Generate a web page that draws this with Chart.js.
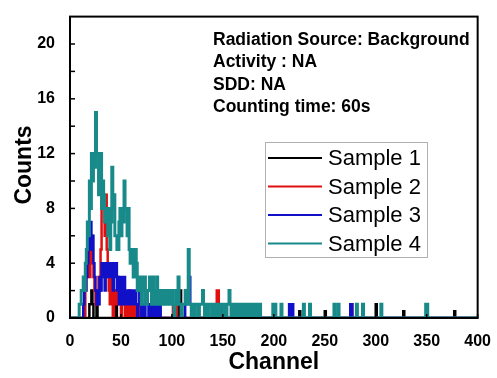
<!DOCTYPE html>
<html>
<head>
<meta charset="utf-8">
<script src="https://cdn.jsdelivr.net/npm/chart.js@4/dist/chart.umd.min.js"></script>
<style>
  body { margin: 0; background: #fff; }
  canvas { display: block; }
</style>
</head>
<body>
<canvas id="spectrum-chart" width="497" height="378"></canvas>
<script>
// 
// Background spectrum, 4 samples
// 

// axis ticks
const xTicks = [0, 50, 100, 150, 200, 250, 300, 350, 400];
const yTicks = [0, 4, 8, 12, 16, 20];

// each sample: a run of counts per channel starting at denseStart,
// then sparse (channel, count) steps further out
// sample 1 (black)
const sample1DenseStart = 17;
const sample1DenseCounts = [0, 0, 1, 1, 2, 1, 0, 0, 0, 1, 0, 0, 0, 0, 0, 0, 0, 0, 0, 0, 0, 0, 0, 0, 0, 0, 0, 0, 2, 0, 0, 0, 0, 0, 0, 0, 0, 0, 1, 0];
const sample1Channels = [107, 108, 109, 110, 149, 150, 225, 226, 250, 251, 300, 301, 327, 328, 377, 378, 400];
const sample1Counts   = [1, 2, 1, 0, 1, 0, 0.5, 0, 0.5, 0, 1, 0, 0.5, 0, 0.5, 0, 0];

// sample 2 (red)
const sample2DenseStart = 14;
const sample2DenseCounts = [0, 2, 3, 6, 5, 3, 6, 6, 4, 3, 2, 1, 2, 1, 3, 2, 5, 9, 8, 9, 6, 9, 5, 3, 2, 1, 3, 1, 0, 2, 1, 2, 1, 3, 1, 2, 0, 1, 2, 1, 0, 1, 0, 1, 2, 0, 1, 0, 1, 0, 0, 1, 0, 0, 0, 1, 0];
const sample2Channels = [101, 102, 104, 105, 143, 144, 146, 147, 275, 277, 400];
const sample2Counts   = [1, 0, 1, 0, 1, 2, 1, 0, 1, 0, 0];

// sample 3 (blue)
const sample3DenseStart = 12;
const sample3DenseCounts = [0, 1, 2, 2, 3, 4, 5, 6, 7, 5, 6, 4, 3, 2, 1, 2, 1, 3, 2, 4, 3, 4, 2, 4, 3, 4, 4, 3, 4, 4, 2, 4, 3, 4, 2, 3, 1, 2, 3, 1, 2, 3, 1, 2, 1, 2, 1, 2, 1, 2, 1, 1, 2, 1, 0, 1, 2, 1, 0, 1, 1, 0, 1, 2, 1, 0, 1, 1, 0, 1, 0, 1, 1, 0, 1, 0, 1, 0, 0];
const sample3Channels = [113, 114, 116, 118, 119, 173, 175, 215, 216, 217, 219, 275, 277, 400];
const sample3Counts   = [1, 2, 3, 1, 0, 1, 0, 1, 0, 1, 0, 1, 0, 0];

// sample 4 (teal)
const sample4DenseStart = 9;
const sample4DenseCounts = [
  1, 1, 2, 2, 3, 2, 4, 5, 7, 6, 10, 8, 12, 10, 12, 11, 15, 12, 12, 9, 11, 12, 8, 10, 9, 7, 8, 8, 6, 8, 5, 7,
  11, 8, 9, 6, 6, 5, 5, 7, 8, 6, 8, 7, 10, 8, 8, 6, 8, 5, 4, 5, 5, 3, 3, 5, 4, 2, 2, 3, 3, 1, 3, 2, 3, 1,
  1, 2, 2, 3, 3, 1, 3, 2, 1, 2, 3, 1, 1, 2, 1, 1, 2, 1, 1, 2, 2, 1, 1, 2, 1, 2, 1, 0, 1, 2, 1, 3, 1, 1,
  0, 1, 1, 1, 2, 1, 2, 5, 1, 1, 0, 1, 1, 0, 1, 1, 1, 0, 1, 1, 1, 2, 1, 0, 1, 1, 0, 1, 1, 1, 0, 1, 1, 0,
  0, 1, 1, 0, 1, 1, 1, 0, 1, 1, 0, 1, 1, 2, 1, 0, 1, 1, 0, 1, 0, 1, 1, 0, 1, 0, 1, 1, 0, 1, 0, 1, 0, 1,
  1, 0, 1, 0, 1, 1, 0, 1, 0, 1, 0
];
const sample4Channels = [199, 200, 201, 202, 207, 208, 229, 230, 235, 236, 259, 260, 263, 264, 281, 282, 287, 288, 305, 306, 349, 351, 400];
const sample4Counts   = [1, 0, 1, 0, 1, 0, 1, 0, 1, 0, 1, 0, 1, 0, 1, 0, 1, 0, 1, 0, 1, 0, 0];

const seriesLabels = ["Sample 1", "Sample 2", "Sample 3", "Sample 4"];
const seriesColors = ["#000000", "#e01010", "#1010c8", "#198a8a"];
const seriesWidths = [2.5, 2.5, 2.5, 3];

const infoLines = [
  "Radiation Source: Background",
  "Activity : NA",
  "SDD: NA",
  "Counting time: 60s"
];

function toPoints(start, dense, channels, counts) {
  const pts = [{ x: 0, y: 0 }];
  dense.forEach((c, i) => pts.push({ x: start + i, y: c }));
  channels.forEach((ch, i) => pts.push({ x: ch, y: counts[i] }));
  return pts;
}

const seriesData = [
  toPoints(sample1DenseStart, sample1DenseCounts, sample1Channels, sample1Counts),
  toPoints(sample2DenseStart, sample2DenseCounts, sample2Channels, sample2Counts),
  toPoints(sample3DenseStart, sample3DenseCounts, sample3Channels, sample3Counts),
  toPoints(sample4DenseStart, sample4DenseCounts, sample4Channels, sample4Counts)
];

const FONT = "'Liberation Sans', Arial, sans-serif";

// frame, inner ticks, axis titles, info text and legend box
const decorPlugin = {
  id: "decor",
  afterDraw(chart) {
    const ctx = chart.ctx;
    const a = chart.chartArea;
    const xs = chart.scales.x;
    const ys = chart.scales.y;
    ctx.save();

    // y ticks every 2 counts, pointing inward
    ctx.strokeStyle = "#000";
    ctx.lineWidth = 1.5;
    for (let v = 0; v <= 20; v += 2) {
      const y = ys.getPixelForValue(v);
      ctx.beginPath();
      ctx.moveTo(a.left, y);
      ctx.lineTo(a.left + 5, y);
      ctx.stroke();
    }
    xTicks.forEach(v => {
      const x = xs.getPixelForValue(v);
      ctx.beginPath();
      ctx.moveTo(x, a.bottom);
      ctx.lineTo(x, a.bottom - 4);
      ctx.stroke();
    });

    // frame
    ctx.lineWidth = 2;
    ctx.strokeRect(a.left, a.top, a.right - a.left, a.bottom - a.top);

    // axis titles
    ctx.fillStyle = "#000";
    ctx.font = "bold 23px " + FONT;
    ctx.textAlign = "center";
    ctx.textBaseline = "middle";
    ctx.fillText("Channel", (a.left + a.right) / 2, 363);
    ctx.save();
    ctx.translate(25, 165);
    ctx.rotate(-Math.PI / 2);
    ctx.fillText("Counts", 0, 0);
    ctx.restore();

    // info text
    ctx.font = "bold 17.5px " + FONT;
    ctx.textAlign = "left";
    infoLines.forEach((t, i) => ctx.fillText(t, 213, 40 + i * 22.5));

    // legend
    const lx = 265, ly = 142, lw = 162, lh = 115;
    ctx.fillStyle = "#fff";
    ctx.fillRect(lx, ly, lw, lh);
    ctx.strokeStyle = "#b0b0b0";
    ctx.lineWidth = 1;
    ctx.strokeRect(lx + 0.5, ly + 0.5, lw, lh);
    ctx.font = "22px " + FONT;
    chart.data.datasets.forEach((ds, i) => {
      const y = 158 + i * 28.5;
      ctx.strokeStyle = ds.borderColor;
      ctx.lineWidth = 2;
      ctx.beginPath();
      ctx.moveTo(268, y);
      ctx.lineTo(322, y);
      ctx.stroke();
      ctx.fillStyle = "#000";
      ctx.fillText(ds.label, 328, y + 1);
    });
    ctx.restore();
  }
};

new Chart("spectrum-chart", {
  type: "line",
  data: {
    datasets: seriesLabels.map((label, i) => ({
      label: label,
      data: seriesData[i],
      borderColor: seriesColors[i],
      backgroundColor: seriesColors[i],
      borderWidth: seriesWidths[i],
      stepped: "before",
      pointRadius: 0,
      fill: false,
      order: seriesLabels.length - i
    }))
  },
  options: {
    responsive: false,
    animation: false,
    devicePixelRatio: 1,
    layout: { padding: { top: 12, right: 15, left: 0, bottom: 0 } },
    plugins: {
      legend: { display: false },
      tooltip: { enabled: false }
    },
    scales: {
      x: {
        type: "linear",
        min: 0,
        max: 400,
        afterBuildTicks: s => { s.ticks = xTicks.map(v => ({ value: v })); },
        afterFit: s => { s.height = 60; },
        grid: { display: false },
        border: { display: false },
        ticks: {
          color: "#000",
          font: { family: FONT, size: 16, weight: "bold" },
          padding: 6,
          maxRotation: 0
        }
      },
      y: {
        min: 0,
        max: 22,
        afterBuildTicks: s => { s.ticks = yTicks.map(v => ({ value: v })); },
        afterFit: s => { s.width = 70; },
        grid: { display: false },
        border: { display: false },
        ticks: {
          color: "#000",
          font: { family: FONT, size: 16, weight: "bold" },
          padding: 7
        }
      }
    }
  },
  plugins: [decorPlugin]
});
</script>
</body>
</html>
